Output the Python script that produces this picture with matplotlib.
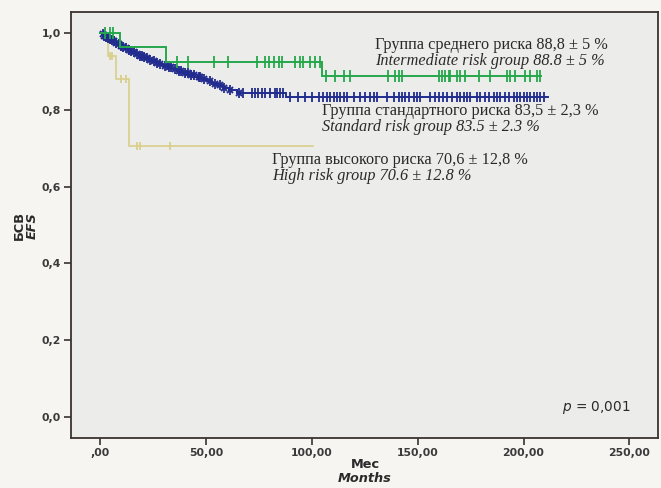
import numpy as np
import matplotlib
matplotlib.use("Agg")
import matplotlib.pyplot as plt

# Kaplan-Meier event-free survival, three risk groups (months)
# Each group: event times with survival after the event, censor times, last follow-up
std_event_t = [0.8, 1.6, 2.4, 3.2, 4.0, 5.0, 6.0, 7.0, 8.2, 9.4, 10.5, 11.8, 13.0,
               14.3, 15.6, 17.0, 18.5, 20.0, 21.5, 23.0, 24.6, 26.2, 27.8, 29.5,
               31.5, 34.0, 36.5, 39.0, 42.0, 45.0, 48.0, 50.5, 53.0, 55.5, 58.0,
               61.0, 64.5, 88.0]
std_event_s = [0.997, 0.994, 0.991, 0.988, 0.985, 0.982, 0.979, 0.976, 0.972, 0.968,
               0.965, 0.961, 0.957, 0.953, 0.950, 0.946, 0.942, 0.938, 0.935, 0.931,
               0.927, 0.923, 0.919, 0.915, 0.911, 0.906, 0.901, 0.897, 0.892, 0.886,
               0.880, 0.875, 0.869, 0.864, 0.858, 0.852, 0.845, 0.835]
std_censor_t = [1.2, 2.0, 2.9, 3.7, 4.5, 5.5, 6.4, 7.4, 8.7, 9.9, 11.0, 12.3, 13.5,
                14.8, 16.2, 17.6, 18.9, 19.6, 20.7, 22.2, 23.6, 25.3, 26.8, 28.5,
                30.4, 32.6, 33.3, 35.2, 37.4, 38.2, 40.3, 41.5, 43.0, 44.1, 46.5,
                47.3, 49.2, 51.8, 54.1, 56.7, 58.3, 61.4, 65.4, 67.7, 71.7, 73.3,
                74.8, 76.4, 78.0, 80.3, 82.7, 83.5, 85.1, 86.6, 89.8, 93.7, 96.9,
                100.0, 103.2, 105.5, 107.1, 108.7, 110.3, 111.9, 113.4, 115.0,
                116.6, 119.7, 122.9, 125.2, 127.6, 129.2, 130.8, 135.5, 138.6,
                141.0, 142.6, 144.1, 145.7, 148.1, 149.7, 151.2, 156.0, 158.3,
                159.9, 162.2, 163.8, 166.2, 168.6, 170.1, 171.7, 173.3, 174.9,
                178.0, 179.6, 181.9, 183.5, 185.9, 187.5, 189.0, 191.4, 193.0,
                195.3, 196.9, 198.5, 200.1, 201.6, 203.2, 204.8, 206.4, 207.9,
                209.5]
std_end = 211.7

mid_event_t = [9.5, 31.0, 105.0]
mid_event_s = [0.963, 0.926, 0.888]
mid_censor_t = [2.4, 4.7, 6.1, 36.2, 41.7, 53.6, 60.6, 74.0, 78.0, 79.6, 81.9, 84.3,
                85.9, 92.1, 94.5, 96.0, 99.2, 101.6, 104.0, 106.5, 111.0, 115.0,
                118.1, 136.2, 139.4, 141.0, 142.6, 159.9, 161.5, 163.0, 164.6,
                165.4, 168.6, 170.1, 172.5, 178.8, 184.3, 192.2, 193.7, 196.1,
                200.8, 203.2, 206.3, 208.0]
mid_end = 208.4

high_event_t = [3.6, 7.6, 13.4]
high_event_s = [0.941, 0.882, 0.706]
high_censor_t = [4.6, 5.6, 10.0, 12.2, 17.3, 18.9, 33.0]
high_end = 100.7

x_ticks = [0, 50, 100, 150, 200, 250]
x_ticklabels = [",00", "50,00", "100,00", "150,00", "200,00", "250,00"]
y_ticks = [0.0, 0.2, 0.4, 0.6, 0.8, 1.0]
y_ticklabels = ["0,0", "0,2", "0,4", "0,6", "0,8", "1,0"]

annotations = [
    ("Группа среднего риска 88,8 ± 5 %", "Intermediate risk group 88.8 ± 5 %"),
    ("Группа стандартного риска 83,5 ± 2,3 %", "Standard risk group 83.5 ± 2.3 %"),
    ("Группа высокого риска 70,6 ± 12,8 %", "High risk group 70.6 ± 12.8 %"),
]

FIG_BG = "#f6f5f1"
AX_BG = "#ececea"
FRAME = "#3b3232"
TXT = "#3a3a3a"


def step_arrays(ev_t, ev_s, end):
    t = [0.0]
    s = [1.0]
    for ti, si in zip(ev_t, ev_s):
        t += [ti, ti]
        s += [s[-1], si]
    t.append(end)
    s.append(s[-1])
    return np.array(t), np.array(s)


def surv_at(times, ev_t, ev_s):
    ev_t = np.asarray(ev_t)
    ev_s = np.concatenate([[1.0], ev_s])
    idx = np.searchsorted(ev_t, np.asarray(times), side="right")
    return ev_s[idx]


fig = plt.figure(figsize=(6.61, 4.88), dpi=100, facecolor=FIG_BG)
ax = fig.add_axes([0.107, 0.1025, 0.889, 0.8725], facecolor=AX_BG)

groups = [
    (high_event_t, high_event_s, high_censor_t, high_end, "#d9cf8c", 1.2, 6, 1),
    (std_event_t, std_event_s, std_censor_t, std_end, "#222c8f", 1.4, 7, 2),
    (mid_event_t, mid_event_s, mid_censor_t, mid_end, "#25a84c", 1.4, 8, 3),
]
for ev_t, ev_s, c_t, end, col, lw, ms, z in groups:
    t, s = step_arrays(ev_t, ev_s, end)
    ax.plot(t, s, color=col, lw=lw, zorder=z, solid_joinstyle="miter")
    ax.plot(c_t, surv_at(c_t, ev_t, ev_s), linestyle="none", marker="|",
            markersize=ms, markeredgewidth=1.3, color=col, zorder=z)
    if col == "#222c8f":
        early = [v for v in c_t if v < 66]
        ax.plot(early, surv_at(early, ev_t, ev_s), linestyle="none", marker="x",
                markersize=5, markeredgewidth=1.4, color=col, zorder=z)

ax.set_xlim(-13.9, 263.7)
ax.set_ylim(-0.055, 1.055)
ax.set_xticks(x_ticks)
ax.set_xticklabels(x_ticklabels)
ax.set_yticks(y_ticks)
ax.set_yticklabels(y_ticklabels)
ax.tick_params(axis="both", direction="out", length=5, width=1.2, color=FRAME,
               labelsize=7.8, labelcolor=TXT, pad=2)
for lab in ax.get_xticklabels() + ax.get_yticklabels():
    lab.set_fontweight("bold")
for sp in ax.spines.values():
    sp.set_color(FRAME)
    sp.set_linewidth(1.3)

serif = "Liberation Serif"
pos = [(375, 45), (322, 111), (272, 160)]
for (ru, en), (px, py) in zip(annotations, pos):
    fig.text(px / 661, 1 - py / 488, ru, family=serif, fontsize=11.7,
             color="#2a2a2a", va="center", ha="left")
    fig.text(px / 661, 1 - (py + 16) / 488, en, family=serif, fontsize=11.7,
             style="italic", color="#2a2a2a", va="center", ha="left")

fig.text(630 / 661, 1 - 407 / 488, "$\\it{p}$ = 0,001", fontsize=9.8,
         color="#2a2a2a", ha="right", va="center")

fig.text(365 / 661, 1 - 464 / 488, "Мес", fontsize=9.3, fontweight="bold",
         color="#2a2a2a", ha="center", va="center")
fig.text(365 / 661, 1 - 478 / 488, "Months", fontsize=9.3, fontweight="bold",
         style="italic", color="#2a2a2a", ha="center", va="center")
fig.text(19 / 661, 1 - 226 / 488, "БСВ", fontsize=9.3, fontweight="bold",
         color="#2a2a2a", ha="center", va="center", rotation=90)
fig.text(32 / 661, 1 - 226 / 488, "EFS", fontsize=9.3, fontweight="bold",
         style="italic", color="#2a2a2a", ha="center", va="center", rotation=90)

fig.savefig("out.png", dpi=100, facecolor=FIG_BG)
